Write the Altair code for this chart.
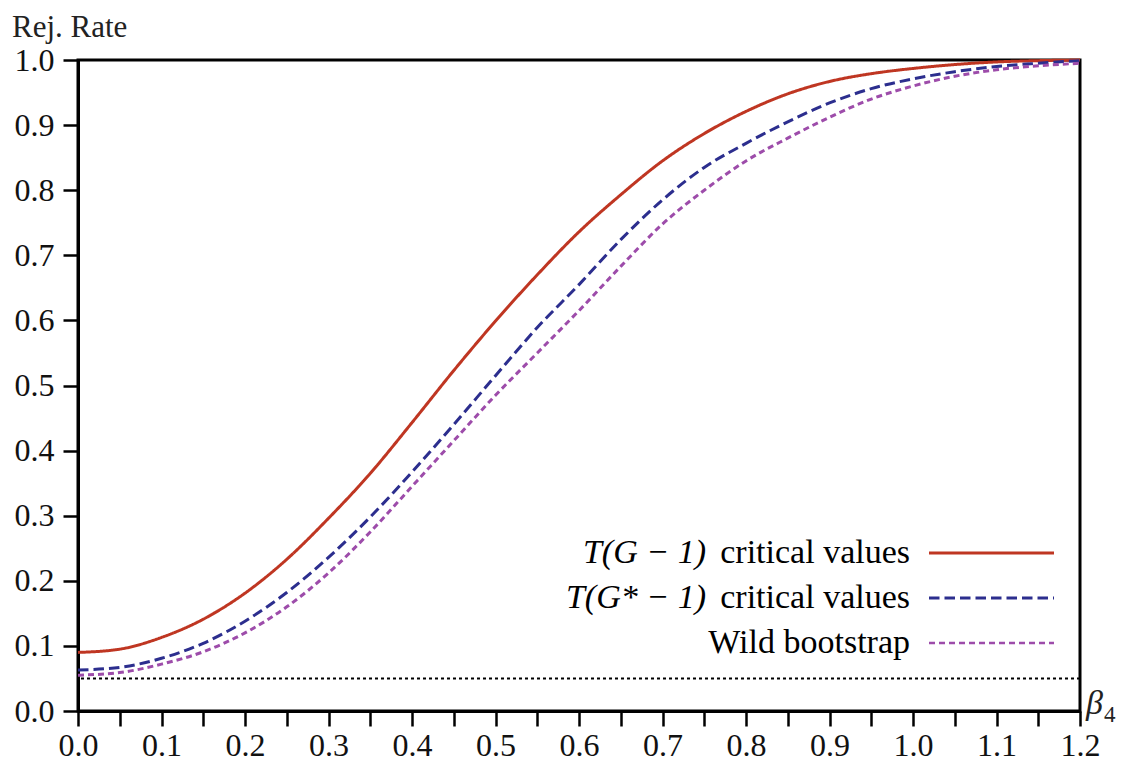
import altair as alt
import pandas as pd

# ---- data ----
beta = [0.00, 0.05, 0.10, 0.15, 0.20, 0.25, 0.30, 0.35, 0.40, 0.45, 0.50, 0.55,
        0.60, 0.65, 0.70, 0.75, 0.80, 0.85, 0.90, 0.95, 1.00, 1.05, 1.10, 1.15, 1.20]

t_g1 = [0.090, 0.095, 0.113, 0.141, 0.181, 0.233, 0.296, 0.365, 0.443, 0.523, 0.599, 0.670,
        0.736, 0.793, 0.845, 0.887, 0.921, 0.948, 0.967, 0.979, 0.987, 0.993, 0.997, 0.999, 1.000]

t_gstar = [0.063, 0.067, 0.081, 0.104, 0.138, 0.182, 0.236, 0.298, 0.367, 0.440, 0.515, 0.589,
           0.655, 0.724, 0.785, 0.835, 0.872, 0.905, 0.934, 0.956, 0.971, 0.982, 0.990, 0.995, 0.999]

wild = [0.055, 0.059, 0.072, 0.091, 0.120, 0.160, 0.212, 0.275, 0.345, 0.415, 0.485, 0.550,
        0.615, 0.683, 0.748, 0.800, 0.845, 0.880, 0.912, 0.940, 0.960, 0.975, 0.985, 0.991, 0.995]

series_names = ["T(G-1)", "T(G*-1)", "Wild bootstrap"]
nominal_level = [0.05]

x_ticks = [0.0, 0.05, 0.1, 0.15, 0.2, 0.25, 0.3, 0.35, 0.4, 0.45, 0.5, 0.55, 0.6,
           0.65, 0.7, 0.75, 0.8, 0.85, 0.9, 0.95, 1.0, 1.05, 1.1, 1.15, 1.2]
y_ticks = [0.0, 0.05, 0.1, 0.15, 0.2, 0.25, 0.3, 0.35, 0.4, 0.45, 0.5,
           0.55, 0.6, 0.65, 0.7, 0.75, 0.8, 0.85, 0.9, 0.95, 1.0]

# ---- styles ----
colors = ["#bf3622", "#2c2e8e", "#9d4caa"]
dashes = [[1, 0], [10.5, 5], [6, 4]]
widths = [3, 3, 2.7]
FONT = "Liberation Serif"

df = pd.DataFrame({
    "beta": beta * 3,
    "rate": t_g1 + t_gstar + wild,
    "series": [series_names[0]] * len(beta) + [series_names[1]] * len(beta) + [series_names[2]] * len(beta),
})

label_expr = "round(datum.value*100) % 10 == 0 ? format(datum.value, '.1f') : ''"

x_enc = alt.X("beta:Q",
              scale=alt.Scale(domain=[0, 1.2], nice=False, zero=False),
              axis=alt.Axis(values=x_ticks, labelExpr=label_expr, title=None,
                            labelPadding=4, labelFlush=False, labelOverlap=False))
y_enc = alt.Y("rate:Q",
              scale=alt.Scale(domain=[0, 1], nice=False),
              axis=alt.Axis(values=y_ticks, labelExpr=label_expr, title=None,
                            labelPadding=9, labelFlush=False, labelOverlap=False))

ref = alt.Chart(pd.DataFrame({"level": nominal_level})).mark_rule(
    color="black", strokeWidth=2, strokeDash=[3, 3]
).encode(y=alt.Y("level:Q", scale=alt.Scale(domain=[0, 1], nice=False)))

lines = alt.Chart(df).mark_line(interpolate="monotone").encode(
    x=x_enc,
    y=y_enc,
    color=alt.Color("series:N", scale=alt.Scale(domain=series_names, range=colors), legend=None),
    strokeDash=alt.StrokeDash("series:N", scale=alt.Scale(domain=series_names, range=dashes), legend=None),
    strokeWidth=alt.StrokeWidth("series:N", scale=alt.Scale(domain=series_names, range=widths), legend=None),
)

one = pd.DataFrame({"a": [0]})

# ---- custom legend (labels left of line samples) ----
legend_math = ["T(G − 1)", "T(G* − 1)", ""]
legend_text = ["critical values", "critical values", "Wild bootstrap"]
text_right = 832
math_right = 832 - 204
line_x0, line_x1 = 851, 976
row_y = [493, 538, 583]

legend_layers = []
for i in range(3):
    legend_layers.append(
        alt.Chart(one).mark_rule(color=colors[i], strokeWidth=widths[i], strokeDash=dashes[i]).encode(
            x=alt.value(line_x0), x2=alt.value(line_x1), y=alt.value(row_y[i]))
    )
    legend_layers.append(
        alt.Chart(one).mark_text(align="right", baseline="alphabetic", font=FONT, fontSize=34,
                                 color="black").encode(
            x=alt.value(text_right), y=alt.value(row_y[i] + 10), text=alt.value(legend_text[i]))
    )
    if legend_math[i]:
        legend_layers.append(
            alt.Chart(one).mark_text(align="right", baseline="alphabetic", font=FONT, fontSize=34,
                                     fontStyle="italic", color="black").encode(
                x=alt.value(math_right), y=alt.value(row_y[i] + 10), text=alt.value(legend_math[i]))
        )

# ---- axis titles ----
y_title = alt.Chart(one).mark_text(align="left", baseline="alphabetic", font=FONT, fontSize=31,
                                   color="#222222").encode(
    x=alt.value(-66), y=alt.value(-23), text=alt.value("Rej. Rate"))
x_title_beta = alt.Chart(one).mark_text(align="left", baseline="alphabetic", font=FONT, fontSize=34,
                                        fontStyle="italic", color="#222222").encode(
    x=alt.value(1008), y=alt.value(654), text=alt.value("β"))
x_title_sub = alt.Chart(one).mark_text(align="left", baseline="alphabetic", font=FONT, fontSize=23,
                                       color="#222222").encode(
    x=alt.value(1026), y=alt.value(662), text=alt.value("4"))

chart = alt.layer(ref, lines, *legend_layers, y_title, x_title_beta, x_title_sub).properties(
    width=1002, height=651,
    autosize=alt.AutoSizeParams(type="none"),
    padding={"left": 70, "top": 52, "right": 37, "bottom": 52},
).configure_view(
    stroke="black", strokeWidth=3
).configure_axis(
    domainColor="black", domainWidth=3, tickColor="black", tickWidth=2.5, tickSize=15,
    labelFont=FONT, labelFontSize=32, labelColor="#111111", grid=False,
)

chart.save("out.html", embed_options={"renderer": "svg", "actions": False})
